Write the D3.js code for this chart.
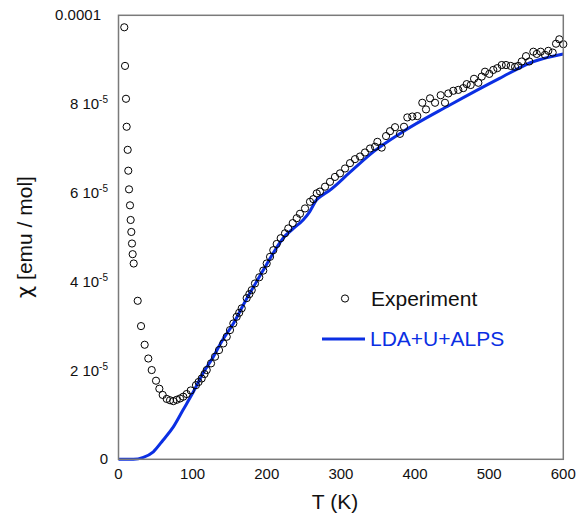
<!DOCTYPE html>
<html>
<head>
<meta charset="utf-8">
<script src="https://cdn.jsdelivr.net/npm/d3@7"></script>
<style>
  body { margin: 0; background: #fff; }
  text { font-family: "Liberation Sans", Arial, sans-serif; }
</style>
</head>
<body>
<div id="chart"></div>
<script>
// experiment: T in K, chi in units of 1e-6 emu/mol
const tExp = [7.8, 8.8, 10.1, 11, 12.4, 13.2, 14.2, 15.5, 16.4, 17.3, 18.2, 19.1, 20.5,
  25.9, 30.4, 35.3, 40.2, 44.8, 50.6, 55.1, 59.6, 65, 69.5, 74, 78.5, 83, 87.4, 92, 97.4,
  104.5, 108, 112.2, 116, 119, 124.8, 130.2, 135.6, 141.4, 146, 150.4, 154.9, 159.4, 162.8,
  166.2, 172.9, 176.5, 179.7, 184.1, 189.9, 195.3, 199.9, 204.4, 208.8, 213.4, 218.8, 224.6,
  229, 235, 240.4, 244.8, 251.6, 258.3, 262.8, 267.4, 271.8, 278.6, 285.3, 292, 298.8,
  305.6, 312.3, 319, 325.8, 332.5, 339.3, 346, 349.2, 355, 360.9, 366.3, 373, 379.7, 385.1,
  389.6, 396.3, 403.1, 409.8, 414.8, 420.2, 427, 434.6, 440.4, 444.9, 451.6, 458.4, 465.1,
  469.7, 475.1, 479.6, 485.4, 490, 494.4, 500.2, 505.6, 511, 516.9, 522.7, 529.1, 534.9,
  539.3, 543.9, 549.7, 554.1, 559.6, 564.2, 569.5, 575.3, 579.8, 585.7, 590.2, 594.6, 600]
const chiExp = [97.3, 88.6, 81.2, 74.9, 69.7, 65.0, 60.8, 57.2, 53.9, 51.2, 48.6, 46.2, 44.1,
  35.7, 30.0, 25.8, 22.7, 20.1, 17.7, 15.9, 14.5, 13.6, 13.3, 13.1, 13.4, 13.7, 14.1, 14.7, 15.5,
  16.7, 17.4, 18.2, 19.2, 20.1, 21.6, 23.1, 24.6, 26.1, 27.6, 29.1, 30.6, 32.1, 33.0,
  34.0, 36.3, 37.2, 38.1, 39.6, 41.0, 42.5, 44.1, 45.6, 47.1, 48.5, 49.8, 50.9,
  52.0, 53.2, 54.3, 55.3, 56.5, 58.0, 58.6, 59.9, 60.3, 61.4, 62.5, 63.6, 64.4,
  65.5, 66.7, 67.6, 68.2, 69.1, 70.0, 70.4, 71.5, 70.2, 72.8, 73.9, 74.8, 73.3, 74.9,
  77.0, 77.2, 77.3, 80.3, 78.8, 81.3, 80.3, 82.0, 80.3, 82.4, 83.0, 83.2, 83.6,
  84.5, 84.3, 85.7, 84.8, 86.2, 87.3, 86.8, 87.7, 88.1, 88.8, 88.8, 88.6, 88.4,
  88.6, 89.6, 90.8, 89.6, 91.8, 91.3, 91.8, 91.1, 92.0, 91.6, 93.6, 94.6, 93.5]

// LDA+U+ALPS curve
const tCalc = [0, 20, 33.5, 47, 60, 74, 87, 101, 114, 128, 139, 155, 171, 195, 210, 222,
  236, 249, 258, 267, 276, 285, 312, 345, 380, 447, 514, 560, 600]
const chiCalc = [0, 0, 0.45, 1.7, 4.3, 7.3, 11.1, 15.2, 19.4, 23.1, 26.5, 30.6, 35.6, 42.5,
  46.8, 49.8, 52.0, 53.9, 55.8, 58.4, 59.6, 60.6, 64.6, 69.4, 73.4, 79.8, 85.8, 89.6, 91.3]

const xTicks = [0, 100, 200, 300, 400, 500, 600]
const yTicks = [0, 20, 40, 60, 80, 100]
const yTickMant = ['0', '2 10', '4 10', '6 10', '8 10', '0.0001']

const width = 577
const height = 516
const margin = { top: 15.3, right: 13.7, bottom: 56.7, left: 118.5 }
const blue = '#0b2fe3'

const svg = d3.select('#chart').append('svg')
  .attr('width', width)
  .attr('height', height)

const x = d3.scaleLinear().domain([0, 600]).range([margin.left, width - margin.right])
const y = d3.scaleLinear().domain([0, 100]).range([height - margin.bottom, margin.top])

// calc line
const line = d3.line()
  .x((d, i) => x(tCalc[i]))
  .y(d => y(d))
  .curve(d3.curveMonotoneX)

svg.append('path')
  .datum(chiCalc)
  .attr('fill', 'none')
  .attr('stroke', blue)
  .attr('stroke-width', 3)
  .attr('d', line)

// experiment markers
svg.append('g')
  .selectAll('circle')
  .data(chiExp)
  .enter().append('circle')
  .attr('cx', (d, i) => x(tExp[i]))
  .attr('cy', d => y(d))
  .attr('r', 3.6)
  .attr('fill', 'none')
  .attr('stroke', '#000')
  .attr('stroke-width', 1)

// frame
svg.append('rect')
  .attr('x', x(0))
  .attr('y', y(100))
  .attr('width', x(600) - x(0))
  .attr('height', y(0) - y(100))
  .attr('fill', 'none')
  .attr('stroke', '#7a7a7a')
  .attr('stroke-width', 1.5)

// x tick labels
svg.append('g')
  .selectAll('text')
  .data(xTicks)
  .enter().append('text')
  .attr('x', d => x(d))
  .attr('y', y(0) + 20)
  .attr('text-anchor', 'middle')
  .attr('font-size', 15)
  .attr('fill', '#111')
  .text(d => d)

// y tick labels with superscript exponent
const yl = svg.append('g')
  .selectAll('text')
  .data(yTicks)
  .enter().append('text')
  .attr('x', (d, i) => i === 5 ? 101 : 108)
  .attr('y', d => y(d) + 5)
  .attr('text-anchor', 'end')
  .attr('font-size', 15)
  .attr('fill', '#111')

yl.append('tspan').text((d, i) => yTickMant[i])
yl.filter((d, i) => i > 0 && i < 5)
  .append('tspan')
  .attr('font-size', 10)
  .attr('dy', -6)
  .text('-5')

// axis titles
svg.append('text')
  .attr('x', 335)
  .attr('y', 509)
  .attr('text-anchor', 'middle')
  .attr('font-size', 21)
  .attr('fill', '#111')
  .text('T (K)')

const yTitle = svg.append('text')
  .attr('transform', 'translate(32,237) rotate(-90)')
  .attr('text-anchor', 'middle')
  .attr('font-size', 21)
  .attr('fill', '#111')
yTitle.append('tspan').attr('font-family', 'DejaVu Sans').text('χ')
yTitle.append('tspan').text(' [emu / mol]')

// legend
const lg = svg.append('g')
lg.append('circle')
  .attr('cx', 345).attr('cy', 298.5).attr('r', 3.6)
  .attr('fill', 'none').attr('stroke', '#000')
lg.append('text')
  .attr('x', 371).attr('y', 306)
  .attr('font-size', 21).attr('fill', '#111')
  .text('Experiment')
lg.append('line')
  .attr('x1', 322).attr('x2', 365).attr('y1', 339).attr('y2', 339)
  .attr('stroke', blue).attr('stroke-width', 3)
lg.append('text')
  .attr('x', 370).attr('y', 346)
  .attr('font-size', 21).attr('fill', blue)
  .text('LDA+U+ALPS')
</script>
</body>
</html>
